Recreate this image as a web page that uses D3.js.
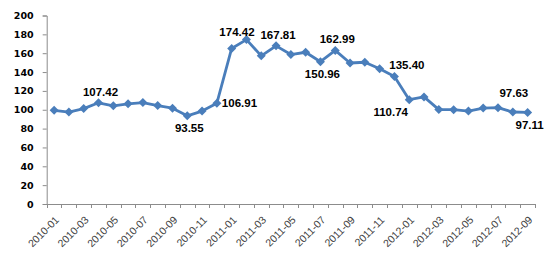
<!DOCTYPE html>
<html>
<head>
<meta charset="utf-8">
<script src="https://cdn.jsdelivr.net/npm/d3@7"></script>
<style>
  html, body { margin: 0; padding: 0; background: #fff; }
  svg { display: block; }
</style>
</head>
<body>
<svg id="chart" width="554" height="271"></svg>
<script>
const months = ["2010-01","2010-02","2010-03","2010-04","2010-05","2010-06","2010-07","2010-08","2010-09","2010-10","2010-11","2010-12",
  "2011-01","2011-02","2011-03","2011-04","2011-05","2011-06","2011-07","2011-08","2011-09","2011-10","2011-11","2011-12",
  "2012-01","2012-02","2012-03","2012-04","2012-05","2012-06","2012-07","2012-08","2012-09"];
const values = [99.4, 97.5, 101.2, 107.42, 104.2, 106.3, 107.6, 104.4, 101.6, 93.55, 98.6, 106.91,
  165.0, 174.42, 157.2, 167.81, 158.6, 161.0, 150.96, 162.99, 149.6, 150.4, 143.4, 135.40,
  110.74, 113.6, 100.2, 100.1, 98.6, 101.8, 102.2, 97.63, 97.11];
const yTicks = [0, 20, 40, 60, 80, 100, 120, 140, 160, 180, 200];
const xTickLabels = months.filter((m, i) => i % 2 === 0);
const labeledMonths = ["2010-04","2010-10","2010-12","2011-02","2011-04","2011-07","2011-08","2011-12","2012-01","2012-08","2012-09"];
const labelPlacement = ["above","below","right","aboveLeft","above","below","above","aboveRight","belowLeft","aboveHigh","below"];

const svg = d3.select("#chart");
const mLeft = 46.7, mRight = 535, mTop = 15.5, mBottom = 204;

const x = d3.scaleBand().domain(months).range([mLeft, mRight]).padding(0);
const y = d3.scaleLinear().domain([0, 200]).range([mBottom, mTop]);
const cx = m => x(m) + x.bandwidth() / 2;

const axisColor = "#8c8c8c";

// Y axis
const yAxis = svg.append("g").attr("transform", `translate(${mLeft},0)`)
  .call(d3.axisLeft(y).tickValues(yTicks).tickSize(4).tickPadding(9).tickFormat(d3.format("d")));
yAxis.select(".domain").attr("stroke", axisColor);
yAxis.selectAll(".tick line").attr("stroke", axisColor);
yAxis.selectAll(".tick text")
  .attr("font-family", "'DejaVu Sans', Verdana, sans-serif")
  .attr("font-weight", "bold").attr("font-size", "9.5px").attr("fill", "#000");

// X axis: line + ticks at category boundaries
const xg = svg.append("g");
xg.append("line").attr("x1", mLeft).attr("x2", mRight).attr("y1", mBottom + 0.5).attr("y2", mBottom + 0.5)
  .attr("stroke", axisColor);
const boundaries = months.map(m => x(m)).concat([x(months[months.length - 1]) + x.bandwidth()]);
xg.selectAll("line.tk").data(boundaries).enter().append("line")
  .attr("class", "tk")
  .attr("x1", d => Math.round(d) + 0.5).attr("x2", d => Math.round(d) + 0.5)
  .attr("y1", mBottom).attr("y2", mBottom + 4)
  .attr("stroke", axisColor);
xg.selectAll("text").data(xTickLabels).enter().append("text")
  .attr("transform", d => `translate(${cx(d) + 3},${mBottom + 14}) rotate(-45)`)
  .attr("text-anchor", "end")
  .attr("dy", "0.35em")
  .attr("font-family", "'Liberation Sans', Arial, sans-serif")
  .attr("font-size", "10.5px")
  .attr("fill", "#404040")
  .text(d => d);

// Line
const line = d3.line().x((d, i) => cx(months[i])).y(d => y(d));
svg.append("path").datum(values)
  .attr("d", line)
  .attr("fill", "none")
  .attr("stroke", "#4A7EBB")
  .attr("stroke-width", 2.8)
  .attr("stroke-linejoin", "round");

// Markers
const r = 4.5;
svg.selectAll("path.mk").data(values).enter().append("path")
  .attr("class", "mk")
  .attr("transform", (d, i) => `translate(${cx(months[i])},${y(d)})`)
  .attr("d", `M0,${-r}L${r},0L0,${r}L${-r},0Z`)
  .attr("fill", "#4A7EBB");

// Data labels
const offsets = {
  above: [2, -7, "middle"],
  aboveHigh: [1, -15, "middle"],
  below: [2, 16.5, "middle"],
  right: [5, 3.7, "start"],
  aboveLeft: [-9.5, -4, "middle"],
  aboveRight: [12.5, -7, "middle"],
  belowLeft: [-18.5, 16, "middle"]
};
svg.selectAll("text.dl").data(labeledMonths).enter().append("text")
  .attr("class", "dl")
  .each(function (m, k) {
    const i = months.indexOf(m);
    const o = offsets[labelPlacement[k]];
    d3.select(this)
      .attr("x", cx(m) + o[0])
      .attr("y", y(values[i]) + o[1])
      .attr("text-anchor", o[2])
      .text(d3.format(".2f")(values[i]));
  })
  .attr("font-family", "'Liberation Sans', Arial, sans-serif")
  .attr("font-weight", "bold")
  .attr("font-size", "11.5px")
  .attr("fill", "#000");
</script>
</body>
</html>
